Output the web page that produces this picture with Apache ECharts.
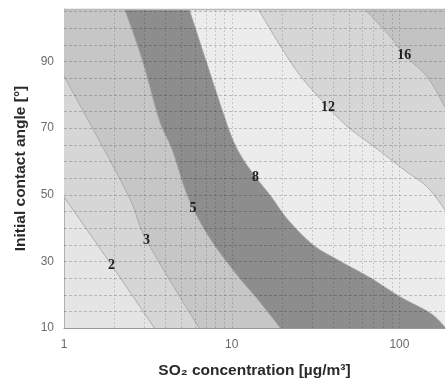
<!DOCTYPE html>
<html><head><meta charset="utf-8">
<script src="https://cdn.jsdelivr.net/npm/echarts@6/dist/echarts.min.js"></script>
<style>html,body{margin:0;padding:0;background:#fff}#c{width:448px;height:384px}</style>
</head><body><div id="c"></div>
<script>
// Contour lines: [SO2 concentration, contact angle]
const contour2 = [[1,49.3],[1.92,28.9],[3.46,10]];
const contour3 = [[1,85.6],[2.36,50.8],[3.10,36.4],[6.38,10]];
const contour5 = [[2.30,105.7],[2.93,90.4],[3.70,72.4],[4.42,63.4],[5.34,50.8],[6.38,42.4],[8.04,34.3],[11.0,25.3],[14.4,18.4],[19.5,10]];
const contour8 = [[5.57,105.7],[8.38,78.4],[10.0,67.3],[11.46,61.3],[13.87,55.3],[17.25,49.3],[21.7,42.4],[30.6,34.9],[43.0,30.4],[67.3,25.0],[101.4,19.3],[152.5,14.5],[187,10.3]];
const contour12 = [[14.4,105.7],[19.0,95.5],[26.0,85.3],[37.5,76.3],[49.3,70.3],[71.1,64.3],[107,57.4],[146.5,52.3],[187,45.4]];
const contour16 = [[62.1,105.7],[88.5,97.3],[107,91.9],[146.5,85.3],[187,76.3]];
const levels = ['2','3','5','8','12','16'];
const bandColors = ['#e5e5e5','#d6d6d6','#c6c6c6','#8d8d8d','#ececec','#d6d6d6','#c3c3c3'];
const labelX = [1.92,3.10,5.88,13.87,37.5,107];
const labelY = [28.9,36.4,46.0,55.3,76.3,91.9];
const xGrid = [2,3,4,5,6,7,8,9,10,20,30,40,50,60,70,80,90,100];
const yGrid = [15,20,25,30,35,40,45,50,55,60,65,70,75,80,85,90,95,100,105];
const xTicks = [1,10,100];
const yTicks = [10,30,50,70,90];
const xMin = 1, xMax = 187, yMin = 10, yMax = 105.7;

const contours = [contour2, contour3, contour5, contour8, contour12, contour16];

// Catmull-Rom smoothing of a pixel polyline (rendering only)
function smoothPx(p){
  const n = p.length, out = [];
  for (let i = 0; i < n - 1; i++) {
    const p0 = p[Math.max(i-1,0)], p1 = p[i], p2 = p[i+1], p3 = p[Math.min(i+2,n-1)];
    for (let s = 0; s < 10; s++) {
      const t = s/10, t2 = t*t, t3 = t2*t;
      out.push([0,1].map(k => 0.5*((2*p1[k]) + (-p0[k]+p2[k])*t + (2*p0[k]-5*p1[k]+4*p2[k]-p3[k])*t2 + (-p0[k]+3*p1[k]-3*p2[k]+p3[k])*t3)));
    }
  }
  out.push(p[n-1]);
  return out;
}

const chart = echarts.init(document.getElementById('c'), null, {renderer:'canvas'});
chart.setOption({
  animation:false,
  grid:{left:64, top:9, right:0, bottom:56, show:true, backgroundColor:bandColors[0], borderWidth:0},
  xAxis:{type:'log', logBase:10, min:xMin, max:xMax,
    axisLine:{show:true, lineStyle:{color:'#9a9a9a', width:1}},
    axisTick:{show:false}, splitLine:{show:false},
    axisLabel:{color:'#6a6a6a', fontSize:12, margin:11, fontFamily:'Liberation Sans',
      formatter:v=>{const r=Math.round(v);return (xTicks.includes(r)&&Math.abs(v-r)<1e-6)?String(r):'';}},
    name:'SO₂ concentration [µg/m³]', nameLocation:'middle', nameGap:35,
    nameTextStyle:{fontWeight:'bold', fontSize:15.5, color:'#2a2a2a', fontFamily:'Liberation Sans'}},
  yAxis:{type:'value', min:yMin, max:yMax, interval:20,
    axisLine:{show:true, lineStyle:{color:'#b0b0b0', width:1}},
    axisTick:{show:false}, splitLine:{show:false},
    axisLabel:{color:'#6a6a6a', fontSize:12, margin:10, fontFamily:'Liberation Sans',
      formatter:v=>yTicks.includes(v)?String(v):''},
    name:'Initial contact angle [°]', nameLocation:'middle', nameGap:35, nameRotate:90,
    nameTextStyle:{fontWeight:'bold', fontSize:15.5, color:'#2a2a2a', fontFamily:'Liberation Sans'}},
  series:[
    {type:'custom', clip:true, z:1, silent:true,
      data: levels.map((l,i)=>[labelX[i], labelY[i]]),
      renderItem:(params, api)=>{
        const i = params.dataIndex;
        const line = smoothPx(contours[i].map(p=>api.coord(p)));
        const pts = [api.coord([xMin/10, yMax+100])].concat(line)
          .concat([api.coord([xMax*10, yMin-100]), api.coord([xMax*10, yMax+100])]);
        return {type:'polygon', shape:{points:pts},
          style:{fill:bandColors[i+1], stroke:'#a2a2a2', lineWidth:0.8}};
      }},
    {type:'custom', clip:true, z:2, silent:true,
      data: xGrid.map(v=>[v, yMin]),
      renderItem:(params, api)=>{
        const v = xGrid[params.dataIndex];
        const a = api.coord([v, yMin]), b = api.coord([v, yMax]);
        const x = Math.round(a[0]) + 0.5;
        return {type:'line', shape:{x1:x, y1:a[1], x2:x, y2:b[1]},
          style:{stroke:'rgba(0,0,0,0.15)', lineWidth:1, lineDash:[2,2]}};
      }},
    {type:'custom', clip:false, z:2, silent:true,
      data: yGrid.map(v=>[xMin, v]),
      renderItem:(params, api)=>{
        const v = yGrid[params.dataIndex];
        const a = api.coord([xMin, v]), b = api.coord([xMax, v]);
        const y = Math.round(a[1]) + 0.5;
        return {type:'line', shape:{x1:a[0], y1:y, x2:b[0], y2:y},
          style:{stroke:'rgba(0,0,0,0.2)', lineWidth:1, lineDash:[3,2]}};
      }},
    {type:'custom', clip:false, z:2, silent:true,
      data: [[xMin, yMax]],
      renderItem:(params, api)=>{
        const a = api.coord([xMin, yMax]), b = api.coord([xMax, yMax]);
        const y = Math.round(a[1]) + 0.5;
        return {type:'line', shape:{x1:a[0], y1:y, x2:b[0], y2:y},
          style:{stroke:'#b8b8b8', lineWidth:1.5}};
      }},
    {type:'custom', clip:false, z:3, silent:true,
      data: levels.map((l,i)=>[labelX[i], labelY[i]]),
      renderItem:(params, api)=>{
        const i = params.dataIndex;
        const p = api.coord([labelX[i], labelY[i]]);
        return {type:'text', x:p[0], y:p[1],
          style:{text:levels[i], font:'bold 14px "Liberation Serif"', fill:'#1e1e1e', align:'center', verticalAlign:'middle'}};
      }}
  ]
});
</script></body></html>
